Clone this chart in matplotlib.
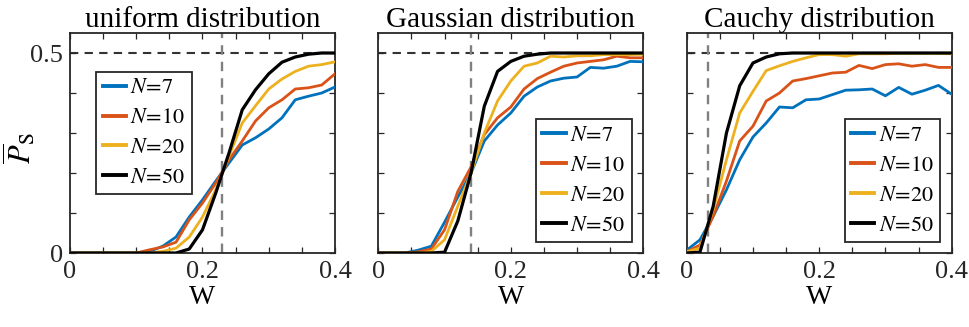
import numpy as np
import matplotlib
matplotlib.use("Agg")
import matplotlib.pyplot as plt
from matplotlib.ticker import MultipleLocator

plt.rcParams["font.family"] = ["Liberation Serif", "DejaVu Serif"]
plt.rcParams["mathtext.fontset"] = "stix"

W = np.round(np.arange(0, 0.4001, 0.02), 2)
labels = ["$N\\!=\\!7$", "$N\\!=\\!10$", "$N\\!=\\!20$", "$N\\!=\\!50$"]
colors = ["#0072BD", "#D95319", "#EDB120", "#000000"]
titles = ["uniform distribution", "Gaussian distribution", "Cauchy distribution"]
w_crit = [0.229, 0.14, 0.032]

# uniform
uni_7 = [0, 0, 0, 0, 0, 0, 0.004, 0.017, 0.04, 0.09, 0.133, 0.18, 0.225, 0.27,
         0.288, 0.31, 0.338, 0.383, 0.392, 0.40, 0.415]
uni_10 = [0, 0, 0, 0, 0, 0, 0.008, 0.015, 0.027, 0.083, 0.125, 0.175, 0.233, 0.28,
          0.33, 0.363, 0.383, 0.41, 0.413, 0.42, 0.448]
uni_20 = [0, 0, 0, 0, 0, 0, 0, 0.004, 0.012, 0.04, 0.09, 0.158, 0.242, 0.325,
          0.368, 0.41, 0.435, 0.454, 0.467, 0.471, 0.478]
uni_50 = [0, 0, 0, 0, 0, 0, 0, 0, 0, 0.01, 0.058, 0.15, 0.25, 0.358,
          0.408, 0.448, 0.477, 0.49, 0.497, 0.5, 0.5]

# gaussian
gau_7 = [0, 0, 0, 0.007, 0.017, 0.077, 0.14, 0.2, 0.28, 0.32, 0.35, 0.392, 0.415,
         0.43, 0.437, 0.44, 0.464, 0.462, 0.467, 0.479, 0.478]
gau_10 = [0, 0, 0, 0.003, 0.01, 0.058, 0.154, 0.215, 0.296, 0.338, 0.365, 0.41, 0.436,
          0.452, 0.467, 0.475, 0.479, 0.483, 0.492, 0.488, 0.488]
gau_20 = [0, 0, 0, 0, 0.004, 0.033, 0.117, 0.2, 0.3, 0.38, 0.43, 0.467, 0.475,
          0.492, 0.49, 0.493, 0.493, 0.496, 0.496, 0.496, 0.497]
gau_50 = [0, 0, 0, 0, 0, 0.002, 0.08, 0.2, 0.367, 0.454, 0.479, 0.492, 0.497,
          0.5, 0.5, 0.5, 0.5, 0.5, 0.5, 0.5, 0.5]

# cauchy
cau_7 = [0.007, 0.033, 0.092, 0.158, 0.233, 0.29, 0.325, 0.365, 0.363, 0.383, 0.385,
         0.396, 0.407, 0.408, 0.41, 0.393, 0.414, 0.397, 0.407, 0.419, 0.397]
cau_10 = [0.003, 0.02, 0.092, 0.18, 0.28, 0.317, 0.38, 0.4, 0.43, 0.436, 0.443,
          0.45, 0.452, 0.469, 0.461, 0.471, 0.473, 0.467, 0.471, 0.464, 0.464]
cau_20 = [0.003, 0.012, 0.108, 0.233, 0.35, 0.404, 0.456, 0.468, 0.479, 0.488, 0.496,
          0.496, 0.492, 0.498, 0.498, 0.498, 0.499, 0.499, 0.499, 0.499, 0.498]
cau_50 = [0, 0.002, 0.117, 0.3, 0.418, 0.475, 0.49, 0.498, 0.5, 0.5, 0.5,
          0.5, 0.5, 0.5, 0.5, 0.5, 0.5, 0.5, 0.5, 0.5, 0.5]

panels = [
    [uni_7, uni_10, uni_20, uni_50],
    [gau_7, gau_10, gau_20, gau_50],
    [cau_7, cau_10, cau_20, cau_50],
]

fig = plt.figure(figsize=(9.7, 3.27), dpi=100)
lefts = [70 / 970, 378.3 / 970, 686.7 / 970]
axc = "#262626"

for i, series in enumerate(panels):
    ax = fig.add_axes([lefts[i], 1 - 253 / 327, 265 / 970, 220 / 327])
    ax.axhline(0.5, color="#333333", ls=(0, (4, 3)), lw=1.5, zorder=1)
    ax.axvline(w_crit[i], color="#808080", ls=(0, (4, 3)), lw=1.7, zorder=1)
    for s, c, lab in zip(series, colors, labels):
        ax.plot(W, s, color=c, lw=2.0 if c != "#000000" else 2.3, label=lab, zorder=3)
    ax.set_xlim(0, 0.4)
    ax.set_ylim(0, 0.55)
    ax.xaxis.set_major_locator(MultipleLocator(0.2))
    ax.xaxis.set_minor_locator(MultipleLocator(0.05))
    ax.yaxis.set_major_locator(MultipleLocator(0.5))
    ax.yaxis.set_minor_locator(MultipleLocator(0.1))
    ax.xaxis.set_major_formatter(plt.FuncFormatter(lambda v, p: "0" if v == 0 else f"{v:g}"))
    ax.yaxis.set_major_formatter(plt.FuncFormatter(lambda v, p: "0" if v == 0 else f"{v:g}"))
    ax.tick_params(which="both", direction="in", top=True, right=True,
                   colors=axc, labelsize=19, width=0.9, length=4)
    ax.tick_params(axis="x", pad=6)
    ax.tick_params(axis="y", pad=5)
    for sp in ax.spines.values():
        sp.set_color(axc)
        sp.set_linewidth(1.3)
    if i > 0:
        ax.set_yticklabels([])
    ax.set_xlabel("W", fontsize=20, labelpad=1)
    ax.set_title(titles[i], fontsize=21, pad=4)

    kw = dict(borderaxespad=0, fontsize=16, labelspacing=0.42, handlelength=1.05,
              handletextpad=0.2, borderpad=0.28, fancybox=False)
    if i == 0:
        leg = ax.legend(loc="upper left", bbox_to_anchor=(0.10, 0.824), **kw)
    else:
        leg = ax.legend(loc="lower right", bbox_to_anchor=(0.956, 0.051), **kw)
    leg.get_frame().set_edgecolor(axc)
    leg.get_frame().set_linewidth(1.3)
    leg.get_frame().set_alpha(1)
    for h in leg.get_lines():
        h.set_linewidth(2.8)

# y label drawn as figure text so the overline is not clipped
fig.text(19 / 970, 1 - 148 / 327, "$\\overline{P}_{\\mathrm{S}}$", fontsize=22,
         rotation=90, ha="center", va="center", color="black")

fig.savefig("out.png", dpi=100)
